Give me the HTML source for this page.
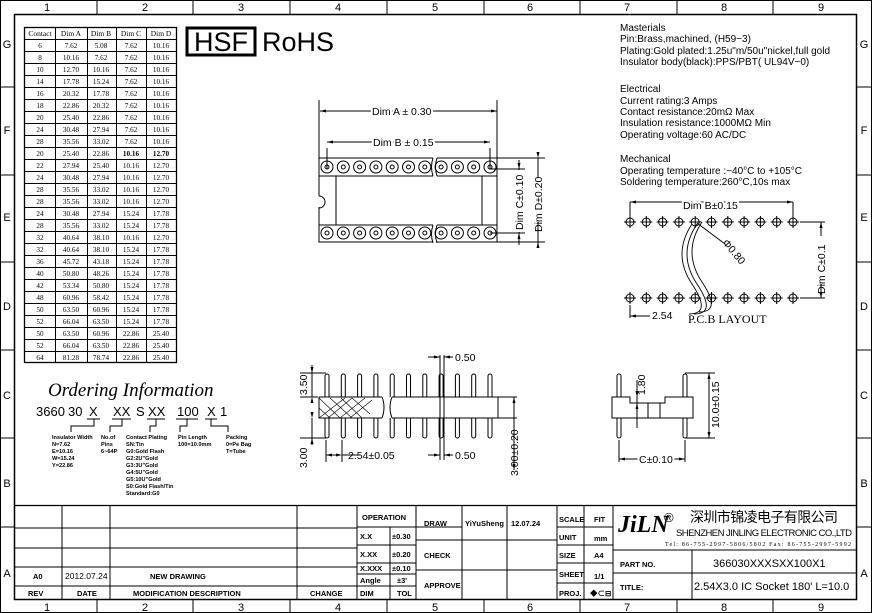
<!DOCTYPE html>
<html><head><meta charset="utf-8"><style>
html,body{margin:0;padding:0;background:#fff}
svg{display:block}
text{font-family:"Liberation Sans","Noto Sans CJK SC",sans-serif;fill:#000}
.s text, text.s{font-family:"Liberation Serif",serif}
</style></head><body>
<svg width="872" height="613" viewBox="0 0 872 613" xmlns="http://www.w3.org/2000/svg">
<g fill="none" stroke="#000" stroke-width="1">
<rect x="0.5" y="0.5" width="871" height="612"/>
<rect x="14.5" y="14.5" width="842" height="585" stroke-width="1.5"/>
<path d="M97 0V14M193 0V14M290 0V14M387 0V14M484 0V14M580 0V14M677 0V14M773 0V14M97 600V613M193 600V613M290 600V613M387 600V613M484 600V613M580 600V613M677 600V613M773 600V613"/>
<path d="M0 87H14M0 175H14M0 262H14M0 350H14M0 438H14M0 527H14M857 87H872M857 175H872M857 262H872M857 350H872M857 438H872M857 527H872"/>
</g>
<g font-size="11" text-anchor="middle">
<text x="47" y="11">1</text><text x="145" y="11">2</text><text x="241" y="11">3</text><text x="338" y="11">4</text><text x="435" y="11">5</text><text x="530" y="11">6</text><text x="627" y="11">7</text><text x="724" y="11">8</text><text x="821" y="11">9</text>
<text x="47" y="611">1</text><text x="145" y="611">2</text><text x="241" y="611">3</text><text x="338" y="611">4</text><text x="435" y="611">5</text><text x="530" y="611">6</text><text x="627" y="611">7</text><text x="724" y="611">8</text><text x="821" y="611">9</text>
<text x="7" y="48">G</text><text x="7" y="134">F</text><text x="7" y="221">E</text><text x="7" y="310">D</text><text x="7" y="399">C</text><text x="7" y="487">B</text><text x="7" y="577">A</text>
<text x="864" y="48">G</text><text x="864" y="134">F</text><text x="864" y="221">E</text><text x="864" y="310">D</text><text x="864" y="399">C</text><text x="864" y="487">B</text><text x="864" y="577">A</text>
</g>

<!-- Table -->
<g fill="none" stroke="#000" stroke-width="1">
<rect x="24.5" y="27.5" width="152" height="335" stroke-width="1.3"/>
<path d="M55.5 27V362M87.5 27V362M116.5 27V362M146.5 27V362"/>
<path d="M24 39.5H177M24 51.5H177M24 63.5H177M24 75.5H177M24 87.5H177M24 99.5H177M24 111.5H177M24 123.5H177M24 135.5H177M24 147.5H177M24 159.5H177M24 171.5H177M24 183.5H177M24 195.5H177M24 207.5H177M24 219.5H177M24 231.5H177M24 243.5H177M24 255.5H177M24 267.5H177M24 279.5H177M24 291.5H177M24 303.5H177M24 315.5H177M24 327.5H177M24 339.5H177M24 351.5H177"/>
</g>
<g class="s" font-size="7.5" text-anchor="middle">
<text x="40" y="36">Contact</text><text x="71" y="36">Dim A</text><text x="101" y="36">Dim B</text><text x="131" y="36">Dim C</text><text x="161" y="36">Dim D</text>
</g>
<g class="s" font-size="7.2" text-anchor="middle">
<text y="48"><tspan x="40">6</tspan><tspan x="71">7.62</tspan><tspan x="101">5.08</tspan><tspan x="131">7.62</tspan><tspan x="161">10.16</tspan></text>
<text y="60"><tspan x="40">8</tspan><tspan x="71">10.16</tspan><tspan x="101">7.62</tspan><tspan x="131">7.62</tspan><tspan x="161">10.16</tspan></text>
<text y="72"><tspan x="40">10</tspan><tspan x="71">12.70</tspan><tspan x="101">10.16</tspan><tspan x="131">7.62</tspan><tspan x="161">10.16</tspan></text>
<text y="84"><tspan x="40">14</tspan><tspan x="71">17.78</tspan><tspan x="101">15.24</tspan><tspan x="131">7.62</tspan><tspan x="161">10.16</tspan></text>
<text y="96"><tspan x="40">16</tspan><tspan x="71">20.32</tspan><tspan x="101">17.78</tspan><tspan x="131">7.62</tspan><tspan x="161">10.16</tspan></text>
<text y="108"><tspan x="40">18</tspan><tspan x="71">22.86</tspan><tspan x="101">20.32</tspan><tspan x="131">7.62</tspan><tspan x="161">10.16</tspan></text>
<text y="120"><tspan x="40">20</tspan><tspan x="71">25.40</tspan><tspan x="101">22.86</tspan><tspan x="131">7.62</tspan><tspan x="161">10.16</tspan></text>
<text y="132"><tspan x="40">24</tspan><tspan x="71">30.48</tspan><tspan x="101">27.94</tspan><tspan x="131">7.62</tspan><tspan x="161">10.16</tspan></text>
<text y="144"><tspan x="40">28</tspan><tspan x="71">35.56</tspan><tspan x="101">33.02</tspan><tspan x="131">7.62</tspan><tspan x="161">10.16</tspan></text>
<text y="156"><tspan x="40">20</tspan><tspan x="71">25.40</tspan><tspan x="101">22.86</tspan><tspan x="131" font-weight="bold">10.16</tspan><tspan x="161" font-weight="bold">12.70</tspan></text>
<text y="168"><tspan x="40">22</tspan><tspan x="71">27.94</tspan><tspan x="101">25.40</tspan><tspan x="131">10.16</tspan><tspan x="161">12.70</tspan></text>
<text y="180"><tspan x="40">24</tspan><tspan x="71">30.48</tspan><tspan x="101">27.94</tspan><tspan x="131">10.16</tspan><tspan x="161">12.70</tspan></text>
<text y="192"><tspan x="40">28</tspan><tspan x="71">35.56</tspan><tspan x="101">33.02</tspan><tspan x="131">10.16</tspan><tspan x="161">12.70</tspan></text>
<text y="204"><tspan x="40">28</tspan><tspan x="71">35.56</tspan><tspan x="101">33.02</tspan><tspan x="131">10.16</tspan><tspan x="161">12.70</tspan></text>
<text y="216"><tspan x="40">24</tspan><tspan x="71">30.48</tspan><tspan x="101">27.94</tspan><tspan x="131">15.24</tspan><tspan x="161">17.78</tspan></text>
<text y="228"><tspan x="40">28</tspan><tspan x="71">35.56</tspan><tspan x="101">33.02</tspan><tspan x="131">15.24</tspan><tspan x="161">17.78</tspan></text>
<text y="240"><tspan x="40">32</tspan><tspan x="71">40.64</tspan><tspan x="101">38.10</tspan><tspan x="131">10.16</tspan><tspan x="161">12.70</tspan></text>
<text y="252"><tspan x="40">32</tspan><tspan x="71">40.64</tspan><tspan x="101">38.10</tspan><tspan x="131">15.24</tspan><tspan x="161">17.78</tspan></text>
<text y="264"><tspan x="40">36</tspan><tspan x="71">45.72</tspan><tspan x="101">43.18</tspan><tspan x="131">15.24</tspan><tspan x="161">17.78</tspan></text>
<text y="276"><tspan x="40">40</tspan><tspan x="71">50.80</tspan><tspan x="101">48.26</tspan><tspan x="131">15.24</tspan><tspan x="161">17.78</tspan></text>
<text y="288"><tspan x="40">42</tspan><tspan x="71">53.34</tspan><tspan x="101">50.80</tspan><tspan x="131">15.24</tspan><tspan x="161">17.78</tspan></text>
<text y="300"><tspan x="40">48</tspan><tspan x="71">60.96</tspan><tspan x="101">58.42</tspan><tspan x="131">15.24</tspan><tspan x="161">17.78</tspan></text>
<text y="312"><tspan x="40">50</tspan><tspan x="71">63.50</tspan><tspan x="101">60.96</tspan><tspan x="131">15.24</tspan><tspan x="161">17.78</tspan></text>
<text y="324"><tspan x="40">52</tspan><tspan x="71">66.04</tspan><tspan x="101">63.50</tspan><tspan x="131">15.24</tspan><tspan x="161">17.78</tspan></text>
<text y="336"><tspan x="40">50</tspan><tspan x="71">63.50</tspan><tspan x="101">60.96</tspan><tspan x="131">22.86</tspan><tspan x="161">25.40</tspan></text>
<text y="348"><tspan x="40">52</tspan><tspan x="71">66.04</tspan><tspan x="101">63.50</tspan><tspan x="131">22.86</tspan><tspan x="161">25.40</tspan></text>
<text y="360"><tspan x="40">64</tspan><tspan x="71">81.28</tspan><tspan x="101">78.74</tspan><tspan x="131">22.86</tspan><tspan x="161">25.40</tspan></text>
</g>

<!-- HSF RoHS -->
<rect x="187" y="28" width="68" height="27" fill="none" stroke="#000" stroke-width="3"/>
<text x="221" y="51" font-size="27" text-anchor="middle">HSF</text>
<text x="262" y="51" font-size="27">RoHS</text>

<!-- Materials text -->
<g font-size="10">
<text x="620" y="31">Masterials</text>
<text x="620" y="42">Pin:Brass,machined, (H59−3)</text>
<text x="620" y="54">Plating:Gold plated:1.25u"m/50u"nickel,full gold</text>
<text x="620" y="65">Insulator body(black):PPS/PBT( UL94V−0)</text>
<text x="620" y="92">Electrical</text>
<text x="620" y="104">Current rating:3 Amps</text>
<text x="620" y="115">Contact resistance:20mΩ Max</text>
<text x="620" y="126">Insulation resistance:1000MΩ Min</text>
<text x="620" y="138">Operating voltage:60 AC/DC</text>
<text x="620" y="162">Mechanical</text>
<text x="620" y="174">Operating temperature :−40°C to +105°C</text>
<text x="620" y="185">Soldering temperature:260°C,10s max</text>
</g>

<!-- Top view -->
<g fill="none" stroke="#000" stroke-width="1">
<path d="M319 100V196M497 100V158M320 111H497M327 142H490M327 148V169M490 148V169"/>
<path d="M319 158H433M437 158H497V242H437M433 242H319V207"/>
<path d="M319 196a6 6 0 0 1 0 12" />
<path d="M319 176H433M437 176H497M319 225H433M437 225H497"/>
<path d="M433 158q-3 9 0 18M437 158q-3 9 0 18M433 225q-3 9 0 18M437 225q-3 9 0 18"/>
<path d="M336 176V225M482 176V225"/>
<path d="M497 158H545M497 242H545M490 169H525M490 233H525M519 160V170M519 232V245M538 158V178M538 222V246"/>
</g>
<g fill="#000"><path d="M320 111l6-1.5v3zM497 111l-6-1.5v3zM327 142l6-1.5v3zM490 142l-6-1.5v3zM519 169l-1.5-6h3zM519 233l-1.5 6h3zM538 158l-1.5-6h3zM538 242l-1.5 6h3z"/></g>
<g fill="none" stroke="#000">
<g id="c"><circle cx="327" cy="167" r="6"/><circle cx="327" cy="167" r="2"/></g>
<use href="#c" x="16.3"/><use href="#c" x="32.6"/><use href="#c" x="48.9"/><use href="#c" x="65.2"/><use href="#c" x="81.5"/><use href="#c" x="97.8"/><use href="#c" x="114.1"/><use href="#c" x="130.4"/><use href="#c" x="146.7"/><use href="#c" x="163"/>
<use href="#c" y="66"/><use href="#c" x="16.3" y="66"/><use href="#c" x="32.6" y="66"/><use href="#c" x="48.9" y="66"/><use href="#c" x="65.2" y="66"/><use href="#c" x="81.5" y="66"/><use href="#c" x="97.8" y="66"/><use href="#c" x="114.1" y="66"/><use href="#c" x="130.4" y="66"/><use href="#c" x="146.7" y="66"/><use href="#c" x="163" y="66"/>
</g>
<g font-size="10.5">
<text x="372" y="115" stroke="#fff" stroke-width="4" style="paint-order:stroke">Dim A ± 0.30</text>
<text x="373" y="146" stroke="#fff" stroke-width="4" style="paint-order:stroke">Dim B ± 0.15</text>
<text transform="translate(523 230) rotate(-90)">Dim C±0.10</text>
<text transform="translate(542 232) rotate(-90)">Dim D±0.20</text>
</g>

<!-- PCB layout -->
<g fill="none" stroke="#000">
<path d="M630 202H793M630 202V222M793 202V222M800 222H825M800 298H825M821 222V236M821 284V298M630 305V318M630 316H650"/>
<g id="p"><circle cx="630" cy="222" r="4"/><path d="M624 222h12M630 216v12"/></g>
<use href="#p" x="16.3"/><use href="#p" x="32.6"/><use href="#p" x="48.9"/><use href="#p" x="65.2"/><use href="#p" x="81.5"/><use href="#p" x="97.8"/><use href="#p" x="114.1"/><use href="#p" x="130.4"/><use href="#p" x="146.7"/><use href="#p" x="163"/>
<use href="#p" y="76"/><use href="#p" x="16.3" y="76"/><use href="#p" x="32.6" y="76"/><use href="#p" x="48.9" y="76"/><use href="#p" x="65.2" y="76"/><use href="#p" x="81.5" y="76"/><use href="#p" x="97.8" y="76"/><use href="#p" x="114.1" y="76"/><use href="#p" x="130.4" y="76"/><use href="#p" x="146.7" y="76"/><use href="#p" x="163" y="76"/>
<path d="M692 224q-20 30 0 60t-3 30M697 224q-20 30 0 60t-3 30M702 222q-20 30 0 60t-3 30" stroke-width="0.9"/>
<path d="M697 223L725 244"/>
</g>
<g fill="#000"><path d="M630 202l6-1.5v3zM793 202l-6-1.5v3zM821 222l-1.5 6h3zM821 298l-1.5-6h3zM630 316l6-1.5v3z"/></g>
<g font-size="10.5">
<text x="683" y="209" stroke="#fff" stroke-width="4" style="paint-order:stroke">Dim B±0.15</text>
<text transform="translate(722 243) rotate(50)">Φ0.80</text>
<text transform="translate(825 294) rotate(-90)">Dim C±0.1</text>
<text x="652" y="319">2.54</text>
</g>
<text x="688" y="323" font-size="12" class="s">P.C.B LAYOUT</text>

<!-- Side view -->
<g fill="none" stroke="#000">
<path d="M319 397H382M392 397H498V418H392M382 418H319V397M498 397H517M498 418H517"/>
<path d="M382 397q4 10 0 21M392 397q-4 10 0 21"/>
<g id="sp"><path d="M325 397V376a2 2 0 0 1 4 0V397M325 418V436a2 2 0 0 0 4 0V418"/></g>
<use href="#sp" x="16.3"/><use href="#sp" x="32.6"/><use href="#sp" x="48.9"/><use href="#sp" x="65.2"/><use href="#sp" x="81.5"/><use href="#sp" x="97.8"/><use href="#sp" x="114.1"/><use href="#sp" x="130.4"/><use href="#sp" x="146.7"/><use href="#sp" x="163"/>
<path d="M300 373H326M300 397H318M300 438H326M312 365V397M312 418V445M342 440V462M326 440V462M326 455H338M342 455H360M440 355V460M444 355V460M428 357H440M444 357H453M428 455H440M444 455H453M514 397V470"/>
<path d="M319 398L340 418M330 398L352 418M341 398L362 418M352 398L370 414M319 408L330 418M319 418L345 398M328 418L352 398M340 418L365 398M350 418L372 400" stroke-width="0.6"/>
</g>
<g fill="#000"><path d="M312 373l-1.5-6h3zM312 397l-1.5 6h3zM312 418l-1.5-6h3zM312 438l-1.5 6h3zM326 455l6-1.5v3zM342 455l-6-1.5v3zM440 357l-6-1.5v3zM444 357l6-1.5v3zM440 455l-6-1.5v3zM444 455l6-1.5v3zM514 397l-1.5 6h3zM514 470l-1.5-6h3z"/></g>
<g font-size="10.5">
<text transform="translate(307 395) rotate(-90)">3.50</text>
<text transform="translate(307 468) rotate(-90)">3.00</text>
<text x="348" y="459">2.54±0.05</text>
<text x="455" y="361">0.50</text>
<text x="455" y="459">0.50</text>
<text transform="translate(518 476) rotate(-90)">3.00±0.20</text>
</g>

<!-- End view -->
<g fill="none" stroke="#000">
<path d="M612 397H630V403H665V397H693V418H612Z"/>
<path d="M637 403V418M648 403V418M660 403V418"/>
<path d="M617 397V376a2 2 0 0 1 4 0V397M617 418V436a2 2 0 0 0 4 0V418M683 397V376a2 2 0 0 1 4 0V397M683 418V436a2 2 0 0 0 4 0V418"/>
<path d="M685 373H715M685 438H715M709 373V438M619 440V462M685 440V462M619 459H685M637 380V428"/>
</g>
<g fill="#000"><path d="M709 373l-1.5 6h3zM709 438l-1.5-6h3zM619 459l6-1.5v3zM685 459l-6-1.5v3zM637 397l-1.5-6h3zM637 403l-1.5 6h3z"/></g>
<g font-size="10.5">
<text transform="translate(645 395) rotate(-90)">1.80</text>
<text transform="translate(719 428) rotate(-90)">10.0±0.15</text>
<text x="639" y="463" stroke="#fff" stroke-width="4" style="paint-order:stroke">C±0.10</text>
</g>

<!-- Ordering info -->
<text x="48" y="396" font-size="19" font-style="italic" class="s">Ordering Information</text>
<g font-size="13">
<text y="416"><tspan x="36">3660</tspan><tspan x="68">30</tspan><tspan x="89">X</tspan><tspan x="113">XX</tspan><tspan x="136">S</tspan><tspan x="148">XX</tspan><tspan x="177">100</tspan><tspan x="207">X</tspan><tspan x="220">1</tspan></text>
</g>
<g fill="none" stroke="#000" stroke-width="1">
<path d="M87 419H100M112 419H131M147 419H165M176 419H198M205 419H217M94 419V426H71V432M122 419V426H110V432M156 419V426H150V432M187 419V426H180V432M211 419V426H228V432"/>
</g>
<g font-size="5.6" font-weight="bold">
<text x="52" y="439">Insulator  Width</text><text x="52" y="446">N=7.62</text><text x="52" y="453">E=10.16</text><text x="52" y="460">W=15.24</text><text x="52" y="467">Y=22.86</text>
<text x="101" y="439">No.of</text><text x="101" y="446">Pins</text><text x="101" y="453">6~64P</text>
<text x="126" y="439">Contact  Plating</text><text x="126" y="446">SN:Tin</text><text x="126" y="453">G0:Gold  Flash</text><text x="126" y="460">G2:2U"Gold</text><text x="126" y="467">G3:3U"Gold</text><text x="126" y="474">G4:5U"Gold</text><text x="126" y="481">G5:10U"Gold</text><text x="126" y="488">S0:Gold  Flash/Tin</text><text x="126" y="495">Standard:G0</text>
<text x="178" y="439">Pin  Length</text><text x="178" y="446">100=10.0mm</text>
<text x="226" y="439">Packing</text><text x="226" y="446">0=Pe  Bag</text><text x="226" y="453">T=Tube</text>
</g>

<!-- Title block -->
<g fill="none" stroke="#000" stroke-width="1">
<path d="M14 505.5H857" stroke-width="1.3"/>
<path d="M14 528H357M14 548H357M14 567H357M14 586H357"/>
<path d="M62 505V599M110 505V599M297 505V599M357 505V599M416 505V599M390 527V599M462 505V599M507 505V599M557 505V599M584 505V599M613 505V599M692 550V599"/>
<path d="M357 527H462M357 545H416M357 563H416M357 574H416M357 586H416M416 540H557M416 570H557M557 527H613M557 545H613M557 563H613M557 583H613M613 550H857M613 573H857"/>
</g>
<g font-size="7.5" font-weight="bold">
<text x="33" y="579">A0</text><text x="65" y="579" font-weight="normal" font-size="8.5">2012.07.24</text><text x="150" y="579">NEW  DRAWING</text>
<text x="28" y="596">REV</text><text x="77" y="596">DATE</text><text x="133" y="596">MODIFICATION  DESCRIPTION</text><text x="310" y="596">CHANGE</text>
<text x="362" y="520">OPERATION</text>
<text x="360" y="539">X.X</text><text x="392" y="539">±0.30</text>
<text x="360" y="557">X.XX</text><text x="392" y="557">±0.20</text>
<text x="360" y="571">X.XXX</text><text x="392" y="571">±0.10</text>
<text x="360" y="583">Angle</text><text x="397" y="583">±3'</text>
<text x="360" y="596">DIM</text><text x="397" y="596">TOL</text>
<text x="424" y="526">DRAW</text><text x="424" y="558">CHECK</text><text x="424" y="588">APPROVE</text>
<text x="465" y="526">YiYuSheng</text><text x="511" y="526">12.07.24</text>
<text x="559" y="522">SCALE</text><text x="594" y="522">FIT</text>
<text x="559" y="540">UNIT</text><text x="594" y="541">mm</text>
<text x="559" y="558">SIZE</text><text x="594" y="558">A4</text>
<text x="559" y="577">SHEET</text><text x="594" y="579">1/1</text>
<text x="559" y="596">PROJ.</text><text x="590" y="596">◆⊂⊟</text>
<text x="620" y="567">PART NO.</text><text x="620" y="590">TITLE:</text>
</g>
<text x="618" y="532" font-size="24" font-weight="bold" font-style="italic" class="s">JiLN</text>
<text x="664" y="522" font-size="13">®</text>
<text x="690" y="522" font-size="14" textLength="148" style="font-family:'Noto Sans CJK SC',sans-serif">深圳市锦凌电子有限公司</text>
<text x="676" y="536" font-size="9.5" textLength="176">SHENZHEN JINLING ELECTRONIC CO.,LTD</text>
<text x="665" y="546" font-size="6" fill="#555" class="s" textLength="186">Tel: 86-755-2997-5806/5802    Fax: 86-755-2997-5992</text>
<text x="713" y="567" font-size="11">366030XXXSXX100X1</text>
<text x="694" y="590" font-size="11">2.54X3.0  IC  Socket  180'  L=10.0</text>
</svg>
</body></html>
